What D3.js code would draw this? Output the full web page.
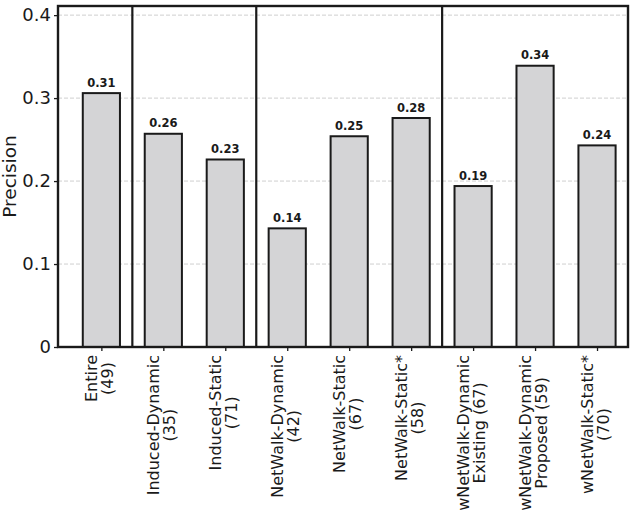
<!DOCTYPE html>
<html>
<head>
<meta charset="utf-8">
<script src="https://cdn.jsdelivr.net/npm/d3@7"></script>
<style>
	body { margin: 0; background: #fff; }
	text { font-family: 'DejaVu Sans', sans-serif; fill: #1a1a1a; }
</style>
</head>
<body>
<svg id="chart" width="634" height="514"></svg>
<script>
var labelLines = [
	['Entire', '(49)'],
	['Induced-Dynamic', '(35)'],
	['Induced-Static', '(71)'],
	['NetWalk-Dynamic', '(42)'],
	['NetWalk-Static', '(67)'],
	['NetWalk-Static*', '(58)'],
	['wNetWalk-Dynamic', 'Existing (67)'],
	['wNetWalk-Dynamic', 'Proposed (59)'],
	['wNetWalk-Static*', '(70)']
];
var precision = [0.306, 0.257, 0.226, 0.143, 0.254, 0.276, 0.194, 0.339, 0.243];
var groupSizes = [1, 2, 3, 3];
var yTicks = [0, 0.1, 0.2, 0.3, 0.4];
var yTickLabels = ['0', '0.1', '0.2', '0.3', '0.4'];

(function() {

	var LEFT = 58, RIGHT = 628, TOP = 6, BOTTOM = 347;
	var BAR_WIDTH = 0.6;

	var svg = d3.select('#chart');

	var x = d3.scaleLinear().domain([-0.7, precision.length - 0.5]).range([LEFT, RIGHT]);
	var y = d3.scaleLinear().domain([0, 0.411]).range([BOTTOM, TOP]);

	// grid lines behind the bars
	svg.append('g').selectAll('line')
		.data(yTicks.filter(function(d) { return d > 0; }))
		.enter().append('line')
		.attr('x1', LEFT).attr('x2', RIGHT)
		.attr('y1', function(d) { return y(d); })
		.attr('y2', function(d) { return y(d); })
		.attr('stroke', '#cfcfcf')
		.attr('stroke-width', 1)
		.attr('stroke-dasharray', '4,2');

	// bars
	svg.append('g').selectAll('rect')
		.data(precision)
		.enter().append('rect')
		.attr('x', function(d, i) { return x(i - BAR_WIDTH / 2); })
		.attr('width', x(BAR_WIDTH) - x(0))
		.attr('y', function(d) { return y(d); })
		.attr('height', function(d) { return y(0) - y(d); })
		.attr('fill', '#d4d4d6')
		.attr('stroke', '#1a1a1a')
		.attr('stroke-width', 2);

	// value labels
	svg.append('g').selectAll('text')
		.data(precision)
		.enter().append('text')
		.attr('x', function(d, i) { return x(i); })
		.attr('y', function(d) { return y(d) - 6.5; })
		.attr('text-anchor', 'middle')
		.style('font-size', '11.5px')
		.style('font-weight', 'bold')
		.text(function(d) { return d.toFixed(2); });

	// group separators
	var breaks = [];
	var acc = 0;
	groupSizes.slice(0, -1).forEach(function(n) { acc += n; breaks.push(acc - 0.5); });
	svg.append('g').selectAll('line')
		.data(breaks)
		.enter().append('line')
		.attr('x1', function(d) { return x(d); })
		.attr('x2', function(d) { return x(d); })
		.attr('y1', TOP).attr('y2', BOTTOM)
		.attr('stroke', '#1a1a1a')
		.attr('stroke-width', 2.2);

	// y axis
	var yAxis = svg.append('g')
		.attr('transform', 'translate(' + LEFT + ',0)')
		.call(d3.axisLeft(y).tickValues(yTicks).tickSize(4).tickPadding(3)
			.tickFormat(function(d, i) { return yTickLabels[i]; }));
	yAxis.select('.domain').remove();
	yAxis.selectAll('line').attr('stroke', '#1a1a1a').attr('stroke-width', 1.3);
	yAxis.selectAll('text').attr('fill', '#1a1a1a')
		.style('font-family', "'DejaVu Sans', sans-serif")
		.style('font-size', '18px');

	// x axis ticks
	var xAxis = svg.append('g')
		.attr('transform', 'translate(0,' + BOTTOM + ')')
		.call(d3.axisBottom(x).tickValues(d3.range(precision.length)).tickSize(4).tickFormat(''));
	xAxis.select('.domain').remove();
	xAxis.selectAll('line').attr('stroke', '#1a1a1a').attr('stroke-width', 1.3);

	// rotated x labels, two lines centered on each other
	var LABEL_TOP = 355;
	labelLines.forEach(function(lines, i) {
		var g = svg.append('g');
		var texts = lines.map(function(line, k) {
			return g.append('text')
				.attr('text-anchor', 'middle')
				.style('font-size', '16px')
				.text(line);
		});
		var maxLen = d3.max(texts, function(t) { return t.node().getComputedTextLength(); });
		var cy = LABEL_TOP + maxLen / 2;
		var offsets = [-4.5, 11.5];
		texts.forEach(function(t, k) {
			var bx = x(i) + offsets[k];
			t.attr('transform', 'translate(' + bx + ',' + cy + ') rotate(-90)');
		});
	});

	// frame
	svg.append('rect')
		.attr('x', LEFT).attr('y', TOP)
		.attr('width', RIGHT - LEFT).attr('height', BOTTOM - TOP)
		.attr('fill', 'none')
		.attr('stroke', '#1a1a1a')
		.attr('stroke-width', 2.4);

	// y label
	svg.append('text')
		.attr('transform', 'translate(16,' + ((TOP + BOTTOM) / 2) + ') rotate(-90)')
		.attr('text-anchor', 'middle')
		.style('font-size', '18.5px')
		.text('Precision');
}());
</script>
</body>
</html>
